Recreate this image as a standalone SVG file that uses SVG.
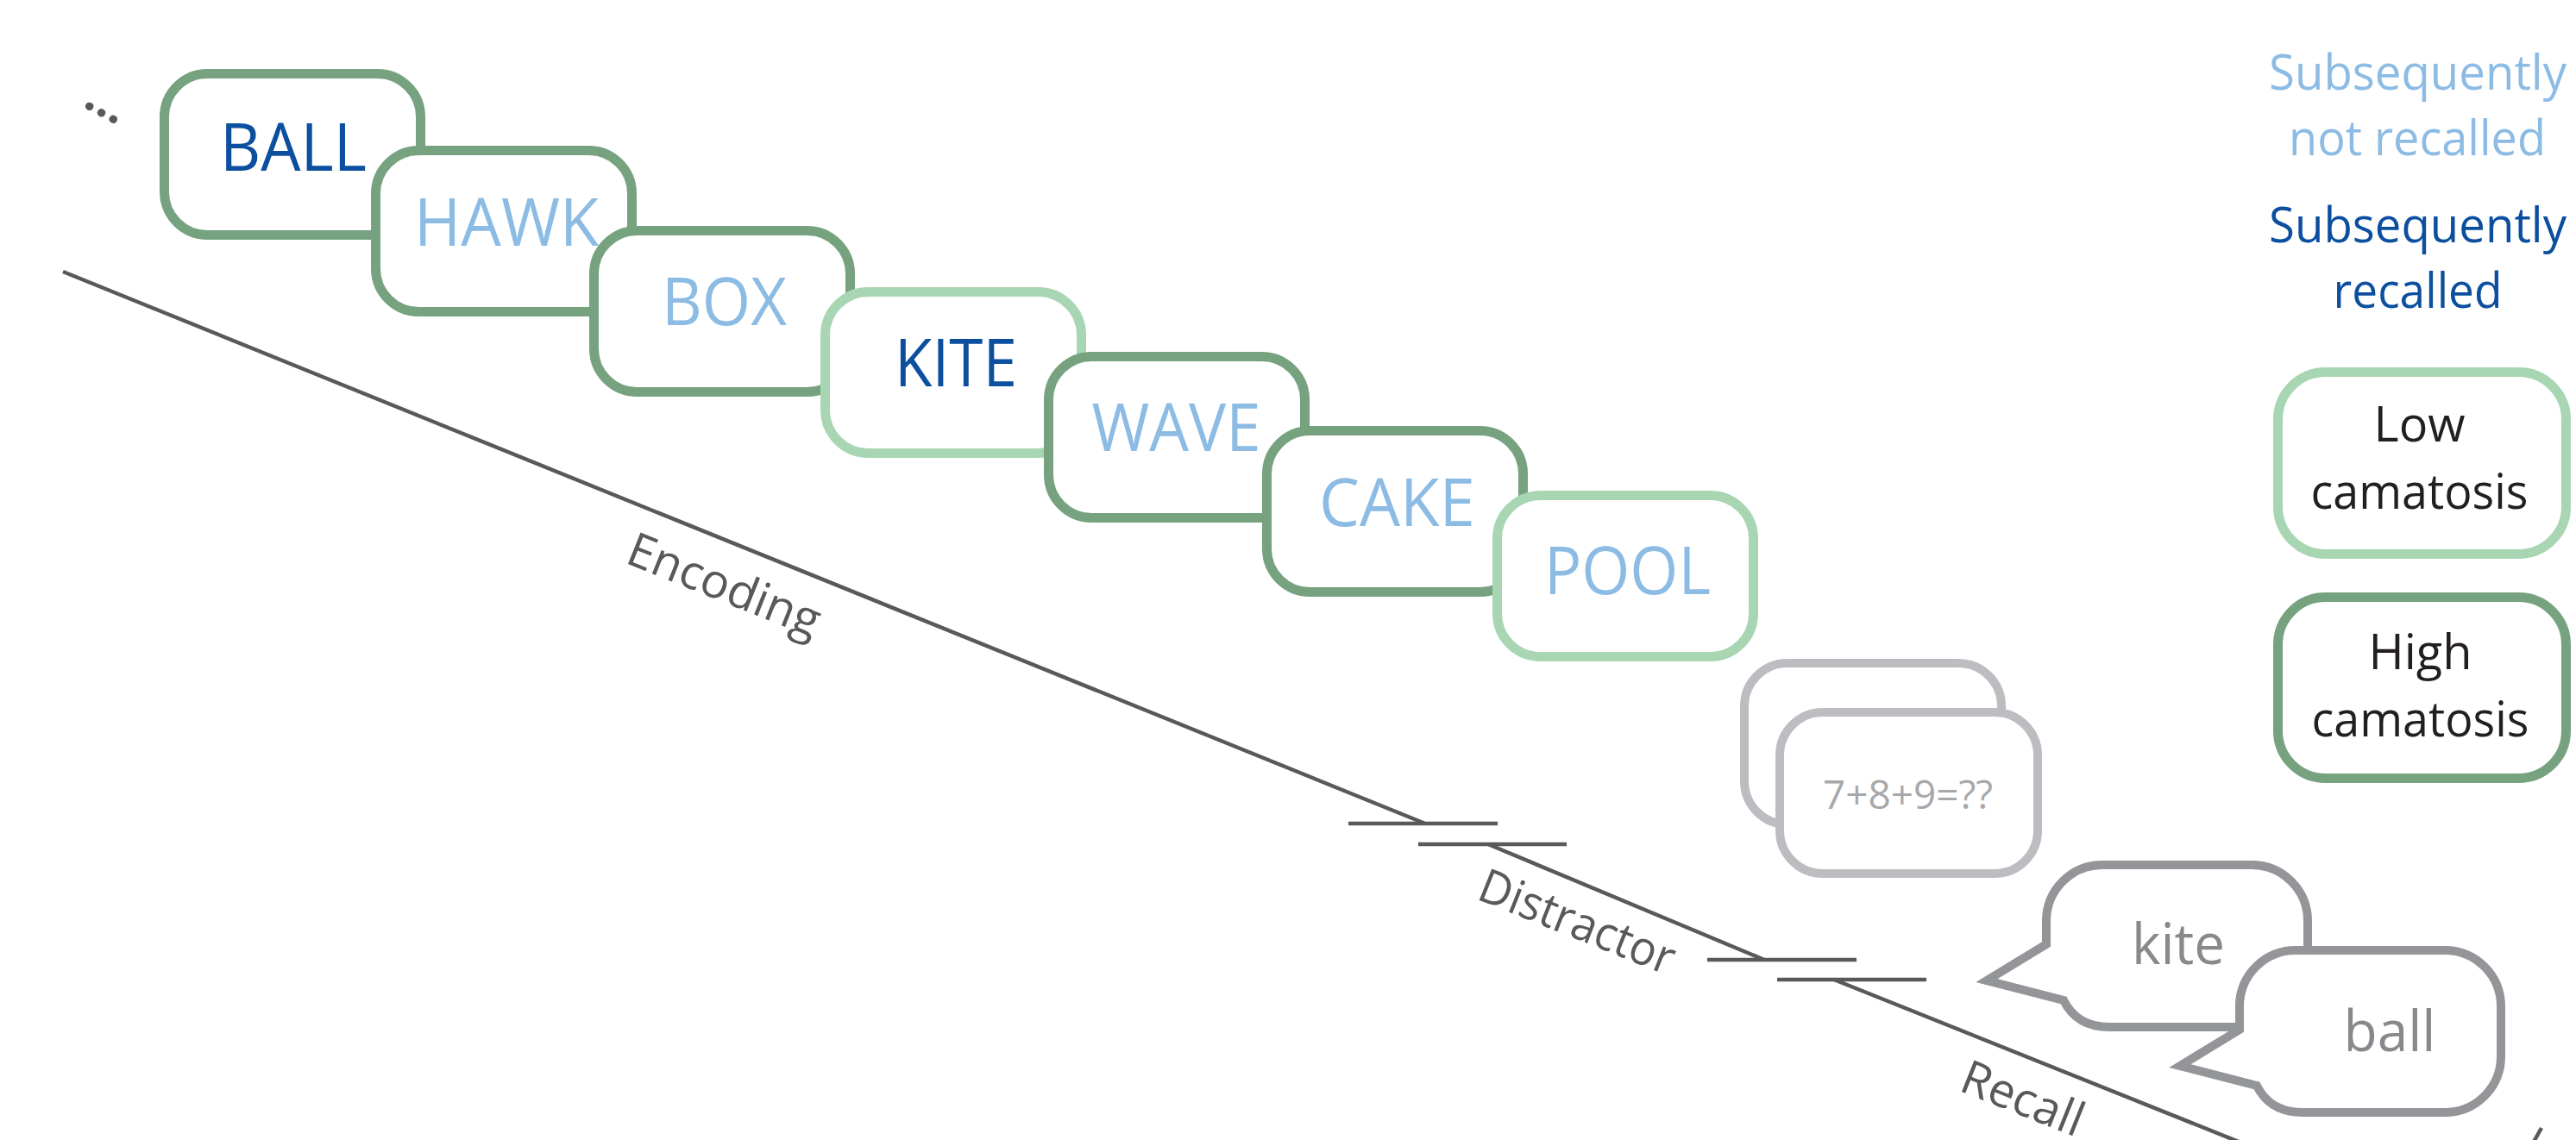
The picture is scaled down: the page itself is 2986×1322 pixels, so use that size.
<svg xmlns="http://www.w3.org/2000/svg" width="2986" height="1322" viewBox="0 0 2986 1322">
  <style>
    text { font-family: "Open Sans", "Liberation Sans", sans-serif; }
    .card { fill: #ffffff; stroke-width: 11; }
    .high { stroke: #76a27f; }
    .low { stroke: #a9d6b2; }
    .word { font-size: 77px; text-anchor: middle; }
    .recalled { fill: #0c4f9f; }
    .forgot { fill: #8cbbe4; }
    .legend { font-size: 57px; text-anchor: middle; }
    .ink { fill: #231f20; }
    .math-card { fill: #ffffff; stroke: #bcbdc0; stroke-width: 10; }
    .bubble { fill: #ffffff; stroke: #939598; stroke-width: 10; stroke-linejoin: miter; stroke-miterlimit: 10; }
    .spoken { font-size: 66px; text-anchor: middle; fill: #87898c; }
    .axis { stroke: #58595b; stroke-width: 4.5; fill: none; }
    .phase { font-size: 55px; fill: #58595b; }
  </style>

  <!-- time axis with break marks between the phases -->
  <g id="connectors">
    <line class="axis" x1="73" y1="315" x2="1652" y2="955"/>
    <line class="axis" x1="1563" y1="955" x2="1736" y2="955"/>
    <line class="axis" x1="1644" y1="979" x2="1816" y2="979"/>
    <line class="axis" x1="1725" y1="979" x2="2045" y2="1113"/>
    <line class="axis" x1="1979" y1="1113" x2="2152" y2="1113"/>
    <line class="axis" x1="2060" y1="1136" x2="2233" y2="1136"/>
    <line class="axis" x1="2126" y1="1136" x2="2600" y2="1326"/>
    <line class="axis" x1="2937" y1="1324" x2="2946" y2="1308" stroke-width="5"/>
  </g>

  <!-- phase labels along the axis -->
  <g id="phase-labels">
    <text class="phase" transform="translate(95 123) rotate(28.5)" font-size="64" font-weight="700">…</text>
    <text class="phase" transform="translate(723 652) rotate(21.8)" textLength="236" lengthAdjust="spacingAndGlyphs">Encoding</text>
    <text class="phase" transform="translate(1710 1042) rotate(21.8)" textLength="240" lengthAdjust="spacingAndGlyphs">Distractor</text>
    <text class="phase" transform="translate(2269 1264) rotate(21.8)" textLength="148" lengthAdjust="spacingAndGlyphs">Recall</text>
  </g>

  <!-- study list -->
  <g id="node-ball">
    <rect class="card high" x="190.5" y="85.5" width="297" height="187" rx="50"/>
    <text class="word recalled" x="340" y="198" textLength="170" lengthAdjust="spacingAndGlyphs">BALL</text>
  </g>
  <g id="node-hawk">
    <rect class="card high" x="435.5" y="174.5" width="297" height="187" rx="50"/>
    <text class="word forgot" x="587" y="285" textLength="214" lengthAdjust="spacingAndGlyphs">HAWK</text>
  </g>
  <g id="node-box">
    <rect class="card high" x="688.5" y="267.5" width="297" height="187" rx="50"/>
    <text class="word forgot" x="839.5" y="377" textLength="145" lengthAdjust="spacingAndGlyphs">BOX</text>
  </g>
  <g id="node-kite">
    <rect class="card low" x="956.5" y="338.5" width="297" height="187" rx="50"/>
    <text class="word recalled" x="1108" y="448" textLength="142" lengthAdjust="spacingAndGlyphs">KITE</text>
  </g>
  <g id="node-wave">
    <rect class="card high" x="1215.5" y="413.5" width="297" height="187" rx="50"/>
    <text class="word forgot" x="1363.5" y="523" textLength="196" lengthAdjust="spacingAndGlyphs">WAVE</text>
  </g>
  <g id="node-cake">
    <rect class="card high" x="1468.5" y="499.5" width="297" height="187" rx="50"/>
    <text class="word forgot" x="1619.5" y="610" textLength="181" lengthAdjust="spacingAndGlyphs">CAKE</text>
  </g>
  <g id="node-pool">
    <rect class="card low" x="1735.5" y="574.5" width="297" height="187" rx="50"/>
    <text class="word forgot" x="1886.5" y="689" textLength="193" lengthAdjust="spacingAndGlyphs">POOL</text>
  </g>

  <!-- distractor task cards -->
  <g id="node-distractor">
    <rect class="math-card" x="2022" y="769" width="298" height="187" rx="50"/>
    <rect class="math-card" x="2063" y="826" width="299" height="187" rx="50"/>
    <text x="2211.5" y="938" font-size="45" text-anchor="middle" fill="#a6a8ab" textLength="197" lengthAdjust="spacingAndGlyphs">7+8+9=??</text>
  </g>

  <!-- recall speech bubbles -->
  <g id="node-recall-kite">
    <path class="bubble" d="M2372,1095 V1068 A65,65 0 0 1 2437,1003 H2610 A65,65 0 0 1 2675,1068 V1126 A65,65 0 0 1 2610,1191 H2445 C2420,1191 2402,1180 2392,1160 L2303,1137 Z"/>
    <text class="spoken" x="2525" y="1118" textLength="108" lengthAdjust="spacingAndGlyphs">kite</text>
  </g>
  <g id="node-recall-ball">
    <path class="bubble" transform="translate(224 99)" d="M2372,1095 V1068 A65,65 0 0 1 2437,1003 H2610 A65,65 0 0 1 2675,1068 V1126 A65,65 0 0 1 2610,1191 H2445 C2420,1191 2402,1180 2392,1160 L2303,1137 Z"/>
    <text class="spoken" x="2770" y="1219" textLength="107" lengthAdjust="spacingAndGlyphs">ball</text>
  </g>

  <!-- key -->
  <g id="legend-not-recalled">
    <text class="legend forgot" x="2802.5" y="103.5" textLength="345" lengthAdjust="spacingAndGlyphs">Subsequently</text>
    <text class="legend forgot" x="2802" y="180" textLength="298" lengthAdjust="spacingAndGlyphs">not recalled</text>
  </g>
  <g id="legend-recalled">
    <text class="legend recalled" x="2802.5" y="281" textLength="345" lengthAdjust="spacingAndGlyphs">Subsequently</text>
    <text class="legend recalled" x="2802.5" y="357" textLength="196" lengthAdjust="spacingAndGlyphs">recalled</text>
  </g>
  <g id="legend-low">
    <rect class="card low" x="2640.5" y="431.5" width="334" height="211" rx="55"/>
    <text class="legend ink" x="2804.5" y="512" textLength="106" lengthAdjust="spacingAndGlyphs">Low</text>
    <text class="legend ink" x="2804.5" y="590" textLength="252" lengthAdjust="spacingAndGlyphs">camatosis</text>
  </g>
  <g id="legend-high">
    <rect class="card high" x="2640.5" y="692.5" width="334" height="210" rx="55"/>
    <text class="legend ink" x="2805.5" y="776" textLength="120" lengthAdjust="spacingAndGlyphs">High</text>
    <text class="legend ink" x="2805.5" y="854" textLength="252" lengthAdjust="spacingAndGlyphs">camatosis</text>
  </g>
</svg>
